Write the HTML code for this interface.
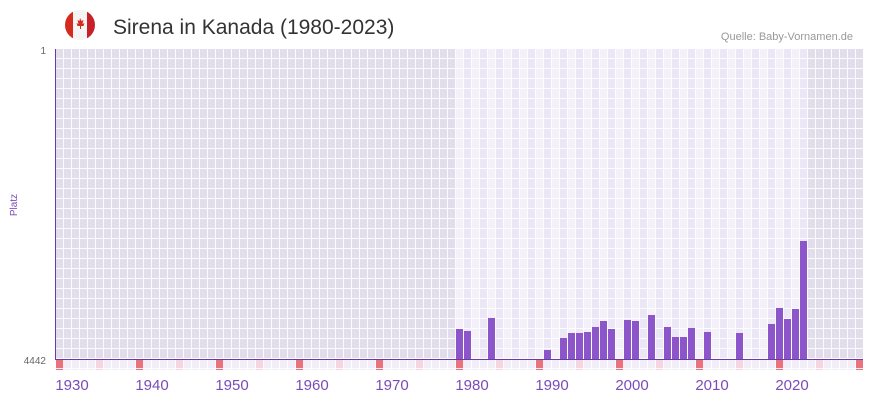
<!DOCTYPE html><html><head><meta charset="utf-8"><style>body{margin:0;background:#fff}svg{display:block;font-family:"Liberation Sans","DejaVu Sans",sans-serif}</style></head><body>
<svg width="873" height="402" viewBox="0 0 873 402" xmlns="http://www.w3.org/2000/svg">
<defs>
<pattern id="g" x="56" y="49" width="8" height="10" patternUnits="userSpaceOnUse"><rect x="7" y="0" width="1" height="10" fill="#fff" fill-opacity="0.85"/><rect x="0" y="9" width="8" height="1" fill="#fff" fill-opacity="0.85"/></pattern>
<clipPath id="fc"><circle cx="80" cy="25" r="15"/></clipPath>
</defs>
<g clip-path="url(#fc)">
<rect x="65" y="10" width="30" height="30" fill="#f4f4f4"/>
<rect x="65" y="10" width="8" height="30" fill="#d52b1e"/>
<rect x="87" y="10" width="8" height="30" fill="#c8202a"/>
</g>
<path d="M80 18 l1.5 3 2-1 -1 4 2-1 -1 3 h-2.5 v3 h-1 v-3 h-2.5 l-1-3 2 1 -1-4 2 1z" fill="#d52b1e"/>
<text x="113" y="34" font-size="21" fill="#333">Sirena in Kanada (1980-2023)</text>
<text x="853" y="40" font-size="11" fill="#999" text-anchor="end">Quelle: Baby-Vornamen.de</text>
<rect x="56" y="49" width="807" height="311" fill="#e2ddeb"/>
<rect x="456" y="49" width="352" height="311" fill="#ece7f6"/>
<g fill="#f3f0fa">
<rect x="456" y="49" width="8" height="311"/><rect x="472" y="49" width="8" height="311"/><rect x="488" y="49" width="8" height="311"/><rect x="504" y="49" width="8" height="311"/><rect x="520" y="49" width="8" height="311"/><rect x="536" y="49" width="8" height="311"/><rect x="552" y="49" width="8" height="311"/><rect x="568" y="49" width="8" height="311"/><rect x="584" y="49" width="8" height="311"/><rect x="600" y="49" width="8" height="311"/><rect x="616" y="49" width="8" height="311"/><rect x="632" y="49" width="8" height="311"/><rect x="648" y="49" width="8" height="311"/><rect x="664" y="49" width="8" height="311"/><rect x="680" y="49" width="8" height="311"/><rect x="696" y="49" width="8" height="311"/><rect x="712" y="49" width="8" height="311"/><rect x="728" y="49" width="8" height="311"/><rect x="744" y="49" width="8" height="311"/><rect x="760" y="49" width="8" height="311"/><rect x="776" y="49" width="8" height="311"/><rect x="792" y="49" width="8" height="311"/>
</g>
<rect x="56" y="360" width="807" height="10" fill="#f1eef8"/>
<g fill="#e8737f">
<rect x="56" y="360" width="8" height="10"/><rect x="136" y="360" width="8" height="10"/><rect x="216" y="360" width="8" height="10"/><rect x="296" y="360" width="8" height="10"/><rect x="376" y="360" width="8" height="10"/><rect x="456" y="360" width="8" height="10"/><rect x="536" y="360" width="8" height="10"/><rect x="616" y="360" width="8" height="10"/><rect x="696" y="360" width="8" height="10"/><rect x="776" y="360" width="8" height="10"/><rect x="856" y="360" width="7" height="10"/>
</g>
<g fill="#f3d6e0">
<rect x="96" y="360" width="8" height="10"/><rect x="176" y="360" width="8" height="10"/><rect x="256" y="360" width="8" height="10"/><rect x="336" y="360" width="8" height="10"/><rect x="416" y="360" width="8" height="10"/><rect x="496" y="360" width="8" height="10"/><rect x="576" y="360" width="8" height="10"/><rect x="656" y="360" width="8" height="10"/><rect x="736" y="360" width="8" height="10"/><rect x="816" y="360" width="8" height="10"/>
</g>
<rect x="56" y="49" width="807" height="321" fill="url(#g)"/>
<g fill="#8c55c9">
<rect x="456" y="329" width="7" height="31"/><rect x="464" y="331" width="7" height="29"/><rect x="488" y="318" width="7" height="42"/>
<rect x="544" y="350" width="7" height="10"/><rect x="560" y="338" width="7" height="22"/><rect x="568" y="333" width="7" height="27"/><rect x="576" y="333" width="7" height="27"/><rect x="584" y="332" width="7" height="28"/><rect x="592" y="327" width="7" height="33"/><rect x="600" y="321" width="7" height="39"/><rect x="608" y="329" width="7" height="31"/>
<rect x="624" y="320" width="7" height="40"/><rect x="632" y="321" width="7" height="39"/><rect x="648" y="315" width="7" height="45"/><rect x="664" y="327" width="7" height="33"/><rect x="672" y="337" width="7" height="23"/><rect x="680" y="337" width="7" height="23"/><rect x="688" y="328" width="7" height="32"/><rect x="704" y="332" width="7" height="28"/><rect x="736" y="333" width="7" height="27"/>
<rect x="768" y="324" width="7" height="36"/><rect x="776" y="308" width="7" height="52"/><rect x="784" y="319" width="7" height="41"/><rect x="792" y="309" width="7" height="51"/><rect x="800" y="241" width="7" height="119"/>
</g>
<rect x="55" y="49" width="1" height="311" fill="#6a3aa8"/>
<rect x="55" y="359" width="808" height="1" fill="#6a3aa8"/>
<text x="46" y="54" font-size="10" fill="#666" text-anchor="end">1</text>
<text x="46" y="364" font-size="10" fill="#666" text-anchor="end">4442</text>
<text transform="translate(17,205) rotate(-90)" font-size="10" fill="#7a4bb8" text-anchor="middle">Platz</text>
<g font-size="15" fill="#7a4bb8" text-anchor="middle">
<text x="72" y="390">1930</text><text x="152" y="390">1940</text><text x="232" y="390">1950</text><text x="312" y="390">1960</text><text x="392" y="390">1970</text><text x="472" y="390">1980</text><text x="552" y="390">1990</text><text x="632" y="390">2000</text><text x="712" y="390">2010</text><text x="792" y="390">2020</text>
</g>
</svg>
</body></html>
